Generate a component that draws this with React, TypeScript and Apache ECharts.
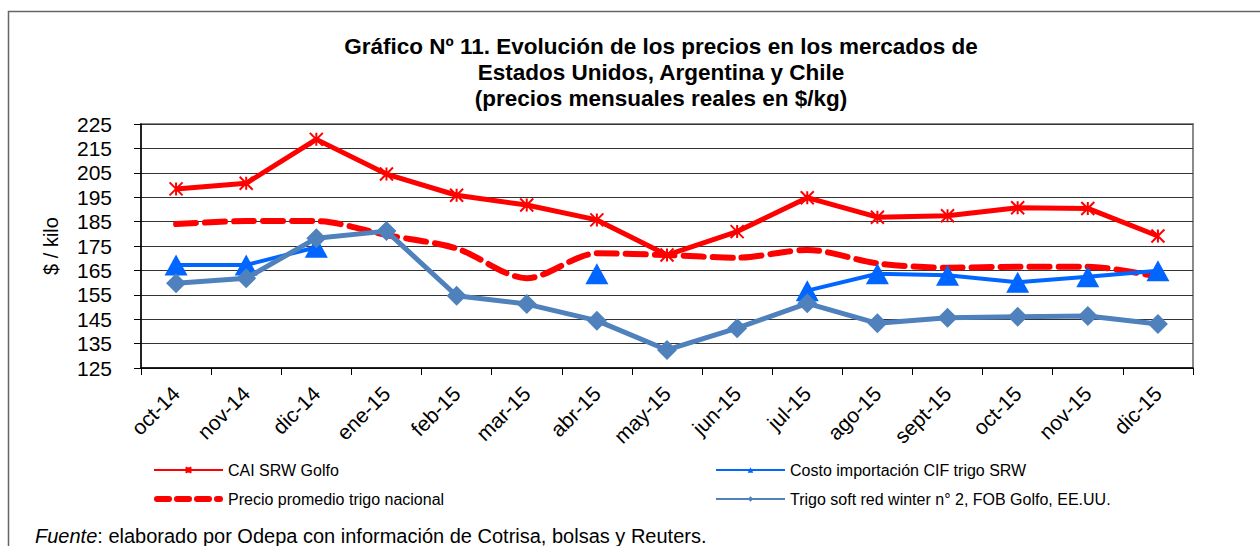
import React, { useEffect, useRef } from "react";
import * as echarts from "echarts";

const categories = ["oct-14", "nov-14", "dic-14", "ene-15", "feb-15", "mar-15", "abr-15", "may-15", "jun-15", "jul-15", "ago-15", "sept-15", "oct-15", "nov-15", "dic-15"];
const caiSrwGolfo = [198.4, 200.7, 218.7, 204.5, 195.8, 191.8, 185.7, 171.3, 180.9, 194.8, 186.8, 187.4, 190.7, 190.4, 179.1];
const precioPromedio = [184.0, 185.2, 185.2, 179.5, 174.0, 161.8, 172.0, 171.3, 170.2, 173.4, 167.9, 166.1, 166.5, 166.5, 162.4];
const costoCif = [167.2, 167.2, 174.5, null, null, null, 163.6, null, null, 156.7, 163.6, 163.0, 160.1, 162.4, 164.9];
const trigoSrw = [159.7, 161.8, 178.2, 181.1, 154.6, 151.2, 144.4, 132.4, 141.3, 151.5, 143.3, 145.6, 146.0, 146.3, 143.0];

const seriesNames = [
  "CAI SRW Golfo",
  "Precio promedio trigo nacional",
  "Costo importación CIF trigo SRW",
  "Trigo soft red winter n° 2, FOB Golfo, EE.UU.",
];
const titleLines = [
  "Gráfico Nº 11. Evolución de los precios en los mercados de",
  "Estados Unidos, Argentina y Chile",
  "(precios mensuales reales en $/kg)",
];
const yAxisName = "$ / kilo";
const yMin = 125;
const yMax = 225;
const yStep = 10;

const FONT = "'Liberation Sans', Arial, Helvetica, sans-serif";
const ASTERISK = "path://M0,0L10,10M10,0L0,10M5,0L5,10";
const DASH_ICON = "path://M3,0h12a3,3 0 0 1 0,6h-12a3,3 0 0 1 0,-6zM23,0h12a3,3 0 0 1 0,6h-12a3,3 0 0 1 0,-6zM43,0h12a3,3 0 0 1 0,6h-12a3,3 0 0 1 0,-6zM63,0h3a3,3 0 0 1 0,6h-3a3,3 0 0 1 0,-6z";

export default function App() {
  const ref = useRef<HTMLDivElement>(null);
  useEffect(() => {
    if (!ref.current) return;
    const chart = echarts.init(ref.current, undefined, { renderer: "svg" });
    const legendCommon = {
      orient: "vertical",
      top: 457,
      itemWidth: 69,
      itemHeight: 7,
      itemGap: 13,
      textStyle: { fontSize: 16, color: "#000", fontFamily: FONT },
    };
    chart.setOption({
      animation: false,
      backgroundColor: "#ffffff",
      textStyle: { fontFamily: FONT },
      grid: {
        left: 141,
        top: 124,
        right: 67,
        bottom: 178,
        show: true,
        borderColor: "#8a8a8a",
        borderWidth: 2,
        backgroundColor: "transparent",
      },
      graphic: [
        {
          type: "rect",
          shape: { x: 8.5, y: 11.5, width: 1400, height: 700 },
          style: { fill: "none", stroke: "#666666", lineWidth: 1.5 },
          silent: true,
        },
        {
          type: "text",
          x: 661,
          y: 33,
          style: {
            text: titleLines.join("\n"),
            font: `bold 22.5px ${FONT}`,
            fill: "#000000",
            textAlign: "center",
            lineHeight: 26,
          },
        },
        {
          type: "text",
          x: 35,
          y: 526,
          style: {
            text: "{i|Fuente}{n|: elaborado por Odepa con información de Cotrisa, bolsas y Reuters.}",
            rich: {
              i: { font: `italic 20px ${FONT}`, fill: "#000" },
              n: { font: `20px ${FONT}`, fill: "#000" },
            },
          },
        },
      ],
      legend: [
        {
          ...legendCommon,
          left: 148,
          data: [seriesNames[0], { name: seriesNames[1], icon: DASH_ICON }],
        },
        {
          ...legendCommon,
          left: 710,
          data: [seriesNames[2], seriesNames[3]],
        },
      ],
      xAxis: {
        type: "category",
        data: categories,
        boundaryGap: true,
        axisLine: { lineStyle: { color: "#000", width: 1.5 } },
        axisTick: { show: true, length: 7, lineStyle: { color: "#000" } },
        axisLabel: {
          rotate: 45,
          fontSize: 21,
          color: "#000",
          margin: 22,
          interval: 0,
          fontFamily: FONT,
        },
        splitLine: { show: false },
      },
      yAxis: {
        type: "value",
        min: yMin,
        max: yMax,
        interval: yStep,
        name: yAxisName,
        nameLocation: "middle",
        nameGap: 80,
        nameTextStyle: { fontSize: 20, color: "#000", fontFamily: FONT },
        axisLine: { show: true, lineStyle: { color: "#000", width: 1.5 } },
        axisTick: { show: true, length: 7, lineStyle: { color: "#000" } },
        axisLabel: { fontSize: 21, color: "#000", margin: 29, fontFamily: FONT },
        splitLine: { show: true, lineStyle: { color: "#333", width: 1 } },
      },
      series: [
        {
          name: seriesNames[1],
          type: "line",
          data: precioPromedio,
          smooth: 0.3,
          symbol: "none",
          z: 2,
          lineStyle: { color: "#FF0000", width: 6, type: [20, 9], cap: "round" },
          itemStyle: { color: "#FF0000" },
        },
        {
          name: seriesNames[2],
          type: "line",
          data: costoCif,
          connectNulls: false,
          symbol: "triangle",
          symbolSize: [23, 21],
          z: 3,
          lineStyle: { color: "#0066FF", width: 4 },
          itemStyle: { color: "#0066FF" },
        },
        {
          name: seriesNames[3],
          type: "line",
          data: trigoSrw,
          symbol: "diamond",
          symbolSize: [20, 20],
          z: 4,
          lineStyle: { color: "#4F81BD", width: 5 },
          itemStyle: { color: "#4F81BD" },
        },
        {
          name: seriesNames[0],
          type: "line",
          data: caiSrwGolfo,
          symbol: ASTERISK,
          symbolSize: 13,
          z: 5,
          lineStyle: { color: "#FF0000", width: 5 },
          itemStyle: { color: "#FF0000", borderColor: "#FF0000", borderWidth: 2 },
        },
      ],
    });
    return () => chart.dispose();
  }, []);
  return (
    <div
      ref={ref}
      style={{ position: "absolute", left: 0, top: 0, width: 1260, height: 546, background: "#fff" }}
    />
  );
}
